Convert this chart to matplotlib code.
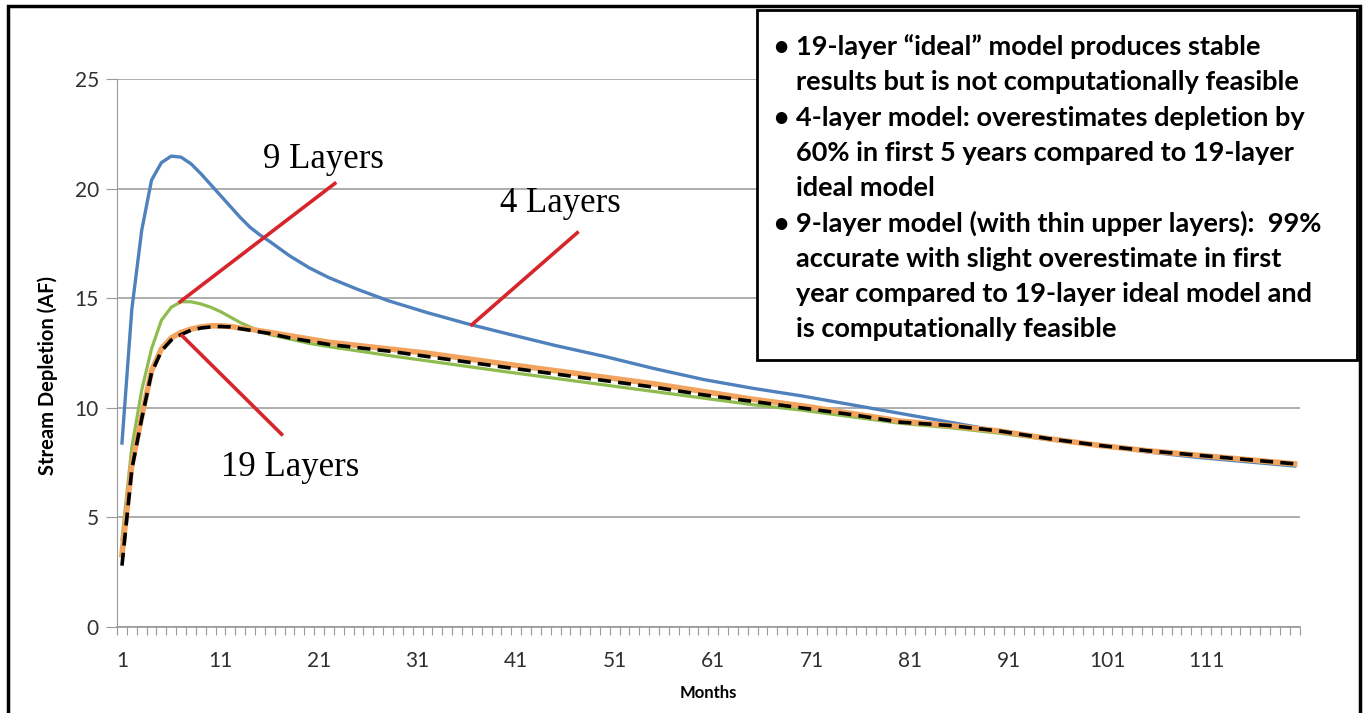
import numpy as np
import matplotlib
matplotlib.use("Agg")
import matplotlib.pyplot as plt
from matplotlib.patches import Rectangle

months = [1, 2, 3, 4, 5, 6, 7, 8, 9, 10, 11, 12, 13, 14, 15, 16, 18, 20, 22, 25,
          28, 32, 36, 40, 45, 50, 55, 60, 65, 70, 75, 80, 85, 90, 95, 100, 105, 110, 115, 120]

layers_4 = [8.4, 14.5, 18.1, 20.4, 21.2, 21.5, 21.45, 21.15, 20.7, 20.2, 19.7, 19.2, 18.7, 18.25,
            17.9, 17.6, 16.95, 16.4, 15.95, 15.4, 14.9, 14.35, 13.85, 13.4, 12.85, 12.35, 11.8,
            11.3, 10.9, 10.55, 10.15, 9.75, 9.35, 8.95, 8.6, 8.3, 8.0, 7.75, 7.55, 7.35]

layers_9 = [4.0, 8.2, 10.8, 12.7, 14.0, 14.6, 14.85, 14.85, 14.75, 14.6, 14.4, 14.15, 13.9, 13.7,
            13.5, 13.35, 13.15, 12.95, 12.8, 12.6, 12.4, 12.15, 11.9, 11.65, 11.35, 11.05, 10.75,
            10.45, 10.15, 9.9, 9.6, 9.3, 9.1, 8.85, 8.55, 8.3, 8.05, 7.85, 7.6, 7.4]

layers_19 = [3.3, 7.4, 9.6, 11.7, 12.7, 13.2, 13.45, 13.6, 13.7, 13.75, 13.75, 13.72, 13.65, 13.6,
             13.52, 13.45, 13.3, 13.15, 13.0, 12.85, 12.7, 12.5, 12.25, 12.0, 11.7, 11.4, 11.1,
             10.75, 10.4, 10.1, 9.75, 9.4, 9.2, 8.95, 8.6, 8.3, 8.05, 7.85, 7.65, 7.45]

ideal_19 = [2.8, 7.2, 9.5, 11.6, 12.6, 13.1, 13.35, 13.55, 13.65, 13.7, 13.72, 13.7, 13.62, 13.55,
            13.47, 13.4, 13.2, 13.05, 12.9, 12.75, 12.6, 12.35, 12.1, 11.85, 11.55, 11.25, 10.95,
            10.6, 10.3, 10.0, 9.7, 9.35, 9.2, 8.95, 8.6, 8.3, 8.05, 7.85, 7.65, 7.45]

x_labels = [1, 11, 21, 31, 41, 51, 61, 71, 81, 91, 101, 111]
y_ticks = [0, 5, 10, 15, 20, 25]

notes = [
    ("\u2022", "19-layer \u201cideal\u201d model produces stable"),
    ("", "results but is not computationally feasible"),
    ("\u2022", "4-layer model: overestimates depletion by"),
    ("", "60% in first 5 years compared to 19-layer"),
    ("", "ideal model"),
    ("\u2022", "9-layer model (with thin upper layers):  99%"),
    ("", "accurate with slight overestimate in first"),
    ("", "year compared to 19-layer ideal model and"),
    ("", "is computationally feasible"),
]

plt.rcParams['font.family'] = ['Lato', 'DejaVu Sans']

fig = plt.figure(figsize=(13.64, 7.13), dpi=100)
ax = fig.add_axes([0.0858, 0.1206, 0.867, 0.768])

ax.plot(months, layers_4, color='#4f81bd', lw=2.4, zorder=3)
ax.plot(months, layers_9, color='#8fbc4f', lw=2.3, zorder=3)
ax.plot(months, layers_19, color='#f2a45e', lw=4.0, zorder=4)
ax.plot(months, ideal_19, color='black', lw=2.6, dashes=(3.6, 2.0), zorder=5)

# red pointer lines
red = '#d7262b'
ax.plot([6.9, 22.6], [14.85, 20.25], color=red, lw=2.6, zorder=6)
ax.plot([36.5, 47.2], [13.8, 18.0], color=red, lw=2.6, zorder=6)
ax.plot([7.1, 17.2], [13.3, 8.8], color=red, lw=2.6, zorder=6)

serif = 'Liberation Serif'
ax.text(21.4, 21.35, "9 Layers", family=serif, fontsize=25, ha='center', va='center')
ax.text(45.5, 19.35, "4 Layers", family=serif, fontsize=25, ha='center', va='center')
ax.text(18.1, 7.3, "19 Layers", family=serif, fontsize=25, ha='center', va='center')

ax.set_xlim(0.5, 120.5)
ax.set_ylim(0, 25)
ax.set_yticks(y_ticks)
ax.set_xticks(x_labels)
ax.set_xticklabels([str(v) for v in x_labels])
ax.set_xticks(np.arange(0.5, 121, 1.0), minor=True)
ax.tick_params(axis='x', which='major', length=0, pad=17, labelsize=15, labelcolor='#303030')
ax.tick_params(axis='x', which='minor', length=6, width=0.8, color='#999999', direction='out')
ax.tick_params(axis='y', length=8, width=0.8, color='#999999', pad=5, labelsize=15, labelcolor='#303030')

ax.yaxis.grid(True, color='#a0a0a0', lw=1.2)
ax.set_axisbelow(True)
for s in ['top', 'right']:
    ax.spines[s].set_visible(False)
ax.spines['left'].set_color('#999999')
ax.spines['bottom'].set_color('#999999')
ax.spines['bottom'].set_linewidth(1.2)

ax.set_ylabel("Stream Depletion (AF)", fontsize=14.5, fontweight='bold', labelpad=8)
ax.yaxis.set_label_coords(-0.05, 0.46)
ax.set_xlabel("Months", fontsize=12, fontweight='bold', labelpad=10)

# outer frame around the whole figure
fig.patches.append(Rectangle((8 / 1364, -0.02), 1352 / 1364, 1.02 - 6 / 713,
                             transform=fig.transFigure, fill=False, ec='black', lw=2.5))

# note box
fig.patches.append(Rectangle((757 / 1364, 1 - 360 / 713), 600 / 1364, 350 / 713,
                             transform=fig.transFigure, fill=True, fc='white',
                             ec='black', lw=2.0, zorder=10))
y0 = 47
for i, (bullet, line) in enumerate(notes):
    y = 1 - (y0 + i * 35.3) / 713
    if bullet:
        fig.text(781 / 1364, y, bullet, fontsize=19, fontweight='bold', ha='center',
                 va='center', zorder=11)
    fig.text(796 / 1364, y, line, fontsize=19.5, fontweight='bold', va='center', zorder=11)

fig.savefig("out.png", dpi=100)
